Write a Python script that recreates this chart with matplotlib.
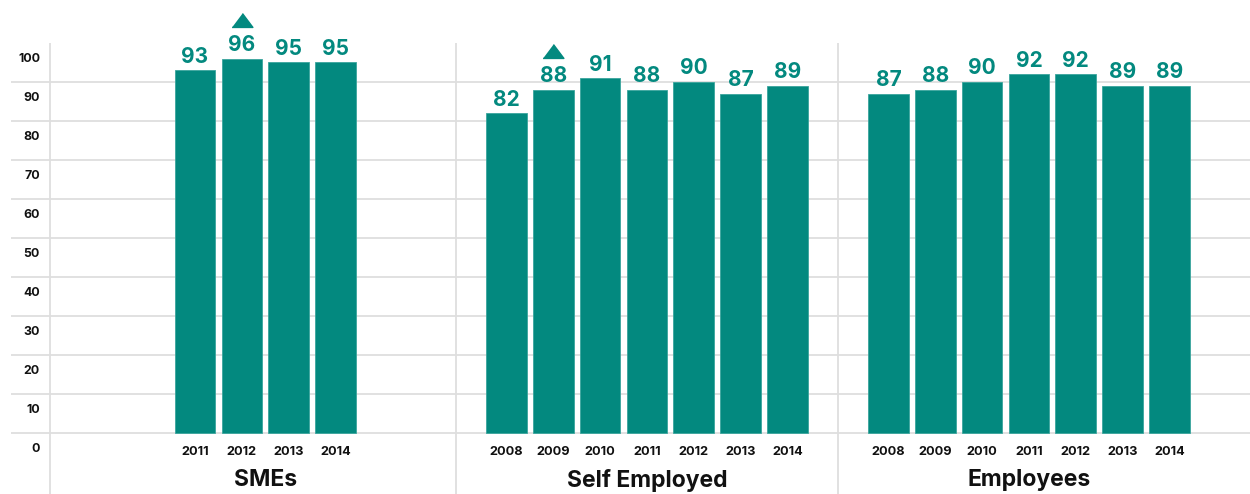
import matplotlib
matplotlib.use("Agg")
import matplotlib.pyplot as plt

# ---- data ----
sme_years = ["2011", "2012", "2013", "2014"]
sme_values = [93, 96, 95, 95]
sme_up = [False, True, False, False]

self_years = ["2008", "2009", "2010", "2011", "2012", "2013", "2014"]
self_values = [82, 88, 91, 88, 90, 87, 89]
self_up = [False, True, False, False, False, False, False]

emp_years = ["2008", "2009", "2010", "2011", "2012", "2013", "2014"]
emp_values = [87, 88, 90, 92, 92, 89, 89]
emp_up = [False] * 7

group_names = ["SMEs", "Self Employed", "Employees"]
y_ticks = [0, 10, 20, 30, 40, 50, 60, 70, 80, 90, 100]

# ---- styling ----
TEAL = "#03897F"
GRID = "#dedede"
DARK = "#111111"
FONT = ["Inter", "DejaVu Sans"]

W, H = 1250, 494
fig = plt.figure(figsize=(W / 100, H / 100), dpi=100)
ax = fig.add_axes([0, 0, 1, 1])
ax.set_xlim(0, W)
# 3.9 px per unit, zero line 433 px from the top
ax.set_ylim(-(H - 433) / 3.9, 433 / 3.9)
ax.axis("off")

# horizontal gridlines
ax.hlines(y_ticks[:-1], 11, W, colors=GRID, linewidth=1.3, zorder=0)

# vertical separators
for xs in (50, 455.5, 838.3):
    ax.vlines(xs, ax.get_ylim()[0], 100, colors=GRID, linewidth=1.3, zorder=0)

# y tick labels (set slightly below their lines)
for t in y_ticks:
    ax.text(40, t - 4.1, str(t), ha="right", va="center", fontsize=8.9,
            fontweight="bold", color=DARK, family=FONT)

groups = [
    (sme_years, sme_values, sme_up, 195.0),
    (self_years, self_values, self_up, 506.5),
    (emp_years, emp_values, emp_up, 888.5),
]
pitch = 46.8
bar_w = 40.5

for name, (years, vals, ups, x0) in zip(group_names, groups):
    xs = [x0 + i * pitch for i in range(len(vals))]
    ax.bar(xs, vals, width=bar_w, color=TEAL, edgecolor="#3aa59d",
           linewidth=0.6, zorder=2)
    for x, v, yr, up in zip(xs, vals, years, ups):
        ax.annotate(str(v), (x, v), xytext=(0, 5.4), textcoords="offset points",
                    ha="center", va="baseline", fontsize=15, fontweight="bold",
                    color=TEAL, family=FONT)
        ax.text(x, -4.9, yr, ha="center", va="center", fontsize=9.2,
                fontweight="bold", color=DARK, family=FONT)
        if up:
            ax.plot([x], [v + 9.9], marker=[(-1.5, -1), (1.5, -1), (0, 1)],
                    markersize=15, color=TEAL, linestyle="none", zorder=3)
    cx = (xs[0] + xs[-1]) / 2
    ax.text(cx, -12.1, name, ha="center", va="center", fontsize=16.5,
            fontweight="bold", color=DARK, family=FONT)

fig.savefig("out.png", dpi=100)
